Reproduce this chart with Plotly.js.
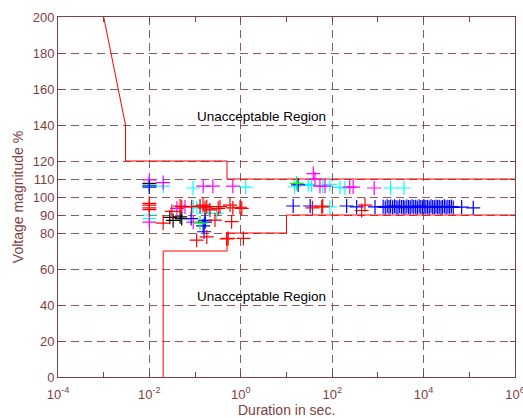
<!DOCTYPE html>
<html>
<head>
<meta charset="utf-8">
<script src="https://cdn.plot.ly/plotly-3.0.1.min.js"></script>
<style>html,body{margin:0;padding:0;background:#fff;}#chart{width:523px;height:418px;}</style>
</head>
<body>
<div id="chart"></div>
<script>
// ITIC limit curves
const upperX = [0.001, 0.003, 0.003, 0.5, 0.5, 1e6];
const upperY = [200, 140, 120, 120, 110, 110];
const lowerX = [0.02, 0.02, 0.5, 0.5, 10, 10, 1e6];
const lowerY = [0, 70, 70, 80, 80, 90, 90];

// Measured events (duration s, voltage %)
const blackX = [0.01, 0.01, 0.028, 0.033, 0.047, 0.051];
const blackY = [107.6, 106.5, 88.7, 87.0, 89.0, 88.0];

const blueX = [0.01, 0.082, 0.165, 0.157, 0.15, 0.165,
  18, 14, 33, 207, 343, 864,
  1300, 1450, 1600, 1750, 1900, 2100, 2300, 2500, 2750, 3000, 3300, 3600, 3900, 4300, 4700,
  5100, 5600, 6100, 6700, 7300, 8000, 8700, 9500, 10300, 11200, 12200, 13300, 14500, 15800,
  17200, 18700, 20300, 22000, 24000, 26000, 28500, 31000, 34000, 37000, 40500, 44500, 68000, 122000];
const blueY = [105.5, 88.0, 87.0, 80.7, 84.0, 86.0,
  106.7, 95.0, 95.0, 95.0, 94.5, 94.5,
  94.6, 94.2, 94.8, 94.4, 94.7, 94.3, 94.9, 94.5, 94.2, 94.8, 94.4, 94.6, 94.1, 94.7, 94.5,
  94.3, 94.8, 94.4, 94.6, 94.2, 94.9, 94.5, 94.3, 94.7, 94.4, 94.6, 94.2, 94.8, 94.5,
  94.3, 94.7, 94.4, 94.6, 94.2, 94.5, 94.8, 94.3, 94.6, 94.4, 94.7, 94.2, 94.4, 94.0];

const greenX = [0.128, 16.7];
const greenY = [85.5, 107.6];

const cyanX = [0.01, 0.01, 0.01, 0.02, 0.09, 1.28, 0.091, 0.11, 0.13, 0.165, 0.297, 0.2,
  15, 30, 35.5, 62, 89, 148, 190, 1900, 3720, 89];
const cyanY = [106.0, 90.0, 88.0, 106.0, 105.0, 105.5, 94.6, 94.0, 94.6, 91.0, 91.0, 93.0,
  105.7, 107.0, 106.5, 106.0, 107.0, 105.4, 105.0, 105.0, 105.0, 94.5];

const magentaX = [0.01, 0.02, 0.01, 0.15, 0.245, 0.67, 0.091, 0.04, 0.06,
  38.6, 42, 54, 69.6, 242, 287, 830];
const magentaY = [109.5, 108.0, 86.0, 106.0, 106.0, 106.0, 86.0, 93.7, 94.5,
  113.0, 110.0, 106.0, 106.0, 105.5, 105.5, 105.0];

const redX = [0.01, 0.01, 0.01, 0.01, 0.02, 0.031, 0.047, 0.051, 0.084, 0.108, 0.128, 0.149,
  0.165, 0.18, 0.18, 0.212, 0.272, 0.32, 0.35, 0.49, 0.53, 0.58, 0.63, 0.67, 0.96, 1.05, 1.14,
  37, 59, 62, 442, 522];
const redY = [94.0, 95.5, 93.0, 96.5, 85.5, 92.0, 95.0, 94.6, 94.6, 76.0, 95.0, 95.5,
  94.0, 94.6, 77.8, 92.8, 87.2, 93.7, 94.6, 76.7, 77.0, 95.5, 86.3, 94.0, 94.3, 93.7, 77.0,
  94.0, 94.5, 95.0, 92.5, 95.5];

const xTickVals = [1e-4, 1e-2, 1, 1e2, 1e4, 1e6];
const xTickText = ['10<sup>-4</sup>', '10<sup>-2</sup>', '10<sup>0</sup>', '10<sup>2</sup>', '10<sup>4</sup>', '10<sup>6</sup>'];
const xMinorVals = [1e-3, 1e-1, 10, 1e3, 1e5];
const yTickVals = [0, 20, 40, 60, 80, 90, 100, 110, 120, 140, 160, 180, 200];

const brown = 'rgb(128,64,64)';
const gridC = 'rgb(140,90,90)';

function pts(x, y, color) {
  return {x: x, y: y, type: 'scatter', mode: 'markers', showlegend: false, hoverinfo: 'skip',
    marker: {symbol: 'cross-thin', size: 10, color: color, line: {color: color, width: 1.2}}};
}

const traces = [
  {x: upperX, y: upperY, type: 'scatter', mode: 'lines', line: {color: '#ff0000', width: 1}, showlegend: false},
  {x: lowerX, y: lowerY, type: 'scatter', mode: 'lines', line: {color: '#ff0000', width: 1}, showlegend: false},
  pts(blackX, blackY, '#000000'),
  pts(cyanX, cyanY, '#00ffff'),
  pts(magentaX, magentaY, '#ff00ff'),
  pts(blueX, blueY, '#0000ff'),
  pts(greenX, greenY, '#00ff00'),
  pts(redX, redY, '#ff0000')
];

const layout = {
  width: 523, height: 418,
  margin: {l: 58, r: 8, t: 17, b: 41},
  paper_bgcolor: '#ffffff', plot_bgcolor: '#ffffff',
  font: {family: 'Liberation Sans, Arial, sans-serif', size: 13, color: brown},
  showlegend: false,
  xaxis: {
    type: 'log', range: [-4, 6], tickvals: xTickVals, ticktext: xTickText,
    showline: true, linecolor: brown, linewidth: 1, mirror: 'ticks',
    ticks: 'inside', ticklen: 5, tickcolor: brown,
    ticklabelstandoff: 5, ticklabeloverflow: 'allow',
    showgrid: true, gridcolor: gridC, griddash: '8px,5px', gridwidth: 1,
    zeroline: false,
    minor: {tickvals: xMinorVals, ticks: 'inside', ticklen: 5, tickcolor: brown, showgrid: false},
    tickfont: {size: 13, color: brown}
  },
  yaxis: {
    range: [0, 200], tickvals: yTickVals,
    showline: true, linecolor: brown, linewidth: 1, mirror: 'ticks',
    ticks: 'inside', ticklen: 5, tickcolor: brown,
    showgrid: true, gridcolor: gridC, griddash: '8px,5px', gridwidth: 1,
    zeroline: false,
    tickfont: {size: 13, color: brown},
    title: {text: 'Voltage magnitude %', font: {size: 14, color: brown}, standoff: 5}
  },
  annotations: [
    {x: 0.5, y: -0.092, xref: 'paper', yref: 'paper', text: 'Duration in sec.', showarrow: false,
      xanchor: 'center', yanchor: 'middle', font: {size: 14, color: brown}},
    {x: -1, y: 145, xref: 'x', yref: 'y', text: 'Unacceptable Region', showarrow: false,
      xanchor: 'left', yanchor: 'middle', font: {size: 13.5, color: '#000000'}},
    {x: -1, y: 45, xref: 'x', yref: 'y', text: 'Unacceptable Region', showarrow: false,
      xanchor: 'left', yanchor: 'middle', font: {size: 13.5, color: '#000000'}}
  ]
};

Plotly.newPlot('chart', traces, layout, {displayModeBar: false, staticPlot: true});
</script>
</body>
</html>
